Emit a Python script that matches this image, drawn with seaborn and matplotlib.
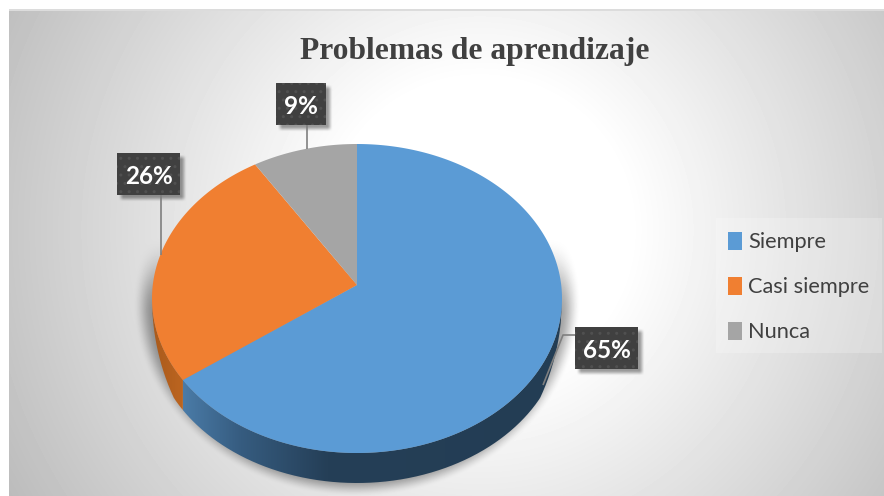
import numpy as np
import matplotlib
matplotlib.use("Agg")
import matplotlib.pyplot as plt
from matplotlib.colors import LinearSegmentedColormap
from matplotlib.patches import PathPatch, Rectangle
from matplotlib.path import Path
import seaborn as sns

# ---- data ----
categories = ["Siempre", "Casi siempre", "Nunca"]
values = [65, 26, 9]
percent_labels = ["65%", "26%", "9%"]
title = "Problemas de aprendizaje"

# ---- styles ----
sns.set_theme(style="white")
plt.rcParams["font.family"] = ["Lato", "DejaVu Sans"]
plt.rcParams["hatch.linewidth"] = 1.0
palette = sns.color_palette(["#5B9BD5", "#F07F31", "#A5A5A5"])

W, H = 884, 496
fig = plt.figure(figsize=(W / 100, H / 100), dpi=100, facecolor="white")

# tilted pie geometry, in pixels
vx, vy = 357, 285                # the vertex, where the slices meet
rx, ey, ery = 205, 298.5, 154.5  # outline ellipse of the top face
depth = 30
top_span, bot_span = vy - (ey - ery), (ey + ery) - vy
tilt = (bot_span - top_span) / (bot_span + top_span)
A = top_span * (1 + tilt)
K = rx * np.sqrt(1 - tilt ** 2)


def persp(x, y):
    """Perspective map from the unit-circle pie to the tilted top face, in pixels."""
    w = 1 + tilt * y
    return vx + K * x / w, vy - A * y / w


def smooth(v):
    v = np.clip(v, 0, 1)
    return v * v * (3 - 2 * v)


# ---- background: radial gradient plus soft shadows ----
yy, xx = np.mgrid[0:H, 0:W] + 0.5
r = np.hypot(xx - 480, yy - 230)
bg = 1 - 0.25 * np.clip((r - 150) / 370, 0, None)

# pie shadow
rs = np.hypot((xx - vx) / 224, (yy - 302) / 195)
bg *= 1 - 0.36 * smooth((1 - rs) / 0.09) * smooth((yy - 235) / 80)

boxes = {"65%": (575, 327, 638, 369), "26%": (117, 153, 180, 195), "9%": (276, 83, 326, 125)}
for x0, y0, x1, y1 in boxes.values():
    sh = (smooth((xx - x0 - 1) / 6) * smooth((x1 + 7 - xx) / 6)
          * smooth((yy - y0 - 1) / 6) * smooth((y1 + 7 - yy) / 6))
    bg *= 1 - 0.38 * sh

bg[:, :9] = 1
bg[:9, :] = 1
bg[9:11, 9:] = 0.86

bgax = fig.add_axes([0, 0, 1, 1], zorder=0)
bgax.imshow(bg, cmap="gray", vmin=0, vmax=1, extent=(0, W, H, 0), aspect="auto", interpolation="nearest")
bgax.axis("off")

# ---- pie top ----
ax = fig.add_axes([0, 0, 1, 1], zorder=1)
wedges, _ = ax.pie(values, colors=palette, startangle=90, counterclock=False, radius=1,
                   wedgeprops=dict(linewidth=0))
ax.set_aspect("auto")
ax.set_xlim(0, W)
ax.set_ylim(H, 0)
for w in wedges:
    th = np.radians(np.linspace(w.theta1, w.theta2, 240))
    px, py = persp(np.r_[0, np.cos(th)], np.r_[0, np.sin(th)])
    w._path = Path(np.c_[px, py].tolist() + [[px[0], py[0]]], closed=True)

# ---- pie thickness ----
a = np.radians(wedges[0].theta1)
split_x = persp(np.cos(a), np.sin(a))[0]


def side(x0, x1, stops):
    xs = np.linspace(x0, x1, 300)
    s = np.sqrt(np.clip(1 - ((xs - vx) / rx) ** 2, 0, 1))
    top = ey + ery * s
    bot = top + depth * np.minimum(1, s / 0.45)
    pts = np.r_[np.c_[xs, top], np.c_[xs[::-1], bot[::-1]]]
    patch = PathPatch(Path(pts), fc="none", ec="none")
    bgax.add_patch(patch)
    cmap = LinearSegmentedColormap.from_list("s", stops)
    im = bgax.imshow(np.linspace(0, 1, 256)[None, :], cmap=cmap, aspect="auto",
                     extent=(x0, x1, bot.max(), top.min()), zorder=2)
    im.set_clip_path(patch)


side(vx - rx, split_x, ["#A95A1C", "#BC6520"])
side(split_x, vx + rx, [(0, "#4A7BA7"), (0.15, "#365C80"), (0.38, "#253F57"), (1, "#233D54")])
bgax.set_xlim(0, W)
bgax.set_ylim(H, 0)

# ---- callouts ----
ov = fig.add_axes([0, 0, 1, 1], zorder=2)
ov.set_xlim(0, W)
ov.set_ylim(H, 0)
ov.axis("off")
leaders = [([543, 563, 575], [385, 335, 335]), ([161, 161], [195, 255]), ([307, 307], [125, 149])]
for lx, ly in leaders:
    ov.plot(lx, ly, color="#7F7F7F", lw=1.2, solid_capstyle="butt")
for lab in percent_labels:
    x0, y0, x1, y1 = boxes[lab]
    ov.add_patch(Rectangle((x0, y0), x1 - x0, y1 - y0, fc="#404040", ec="#505050", lw=0, hatch=".."))
    ov.text((x0 + x1) / 2, (y0 + y1) / 2, lab, color="white", fontsize=17.5, fontweight="bold",
            ha="center", va="center_baseline")

# ---- title and legend ----
ov.text(475, 52, title, family=["Liberation Serif"], fontweight="bold", fontsize=22.7,
        color="#404040", ha="center", va="center")

ov.add_patch(Rectangle((716, 218), 166, 135, fc="white", alpha=0.22, lw=0))
leg = ov.legend(wedges, categories, loc="center left", bbox_to_anchor=(728 / W, 1 - 287 / H),
                bbox_transform=fig.transFigure, frameon=False, fontsize=15.7, labelcolor="#404040",
                handlelength=0.65, handleheight=0.9, handletextpad=0.28, labelspacing=1.12,
                borderaxespad=0, borderpad=0)

fig.savefig("out.png", dpi=100)
